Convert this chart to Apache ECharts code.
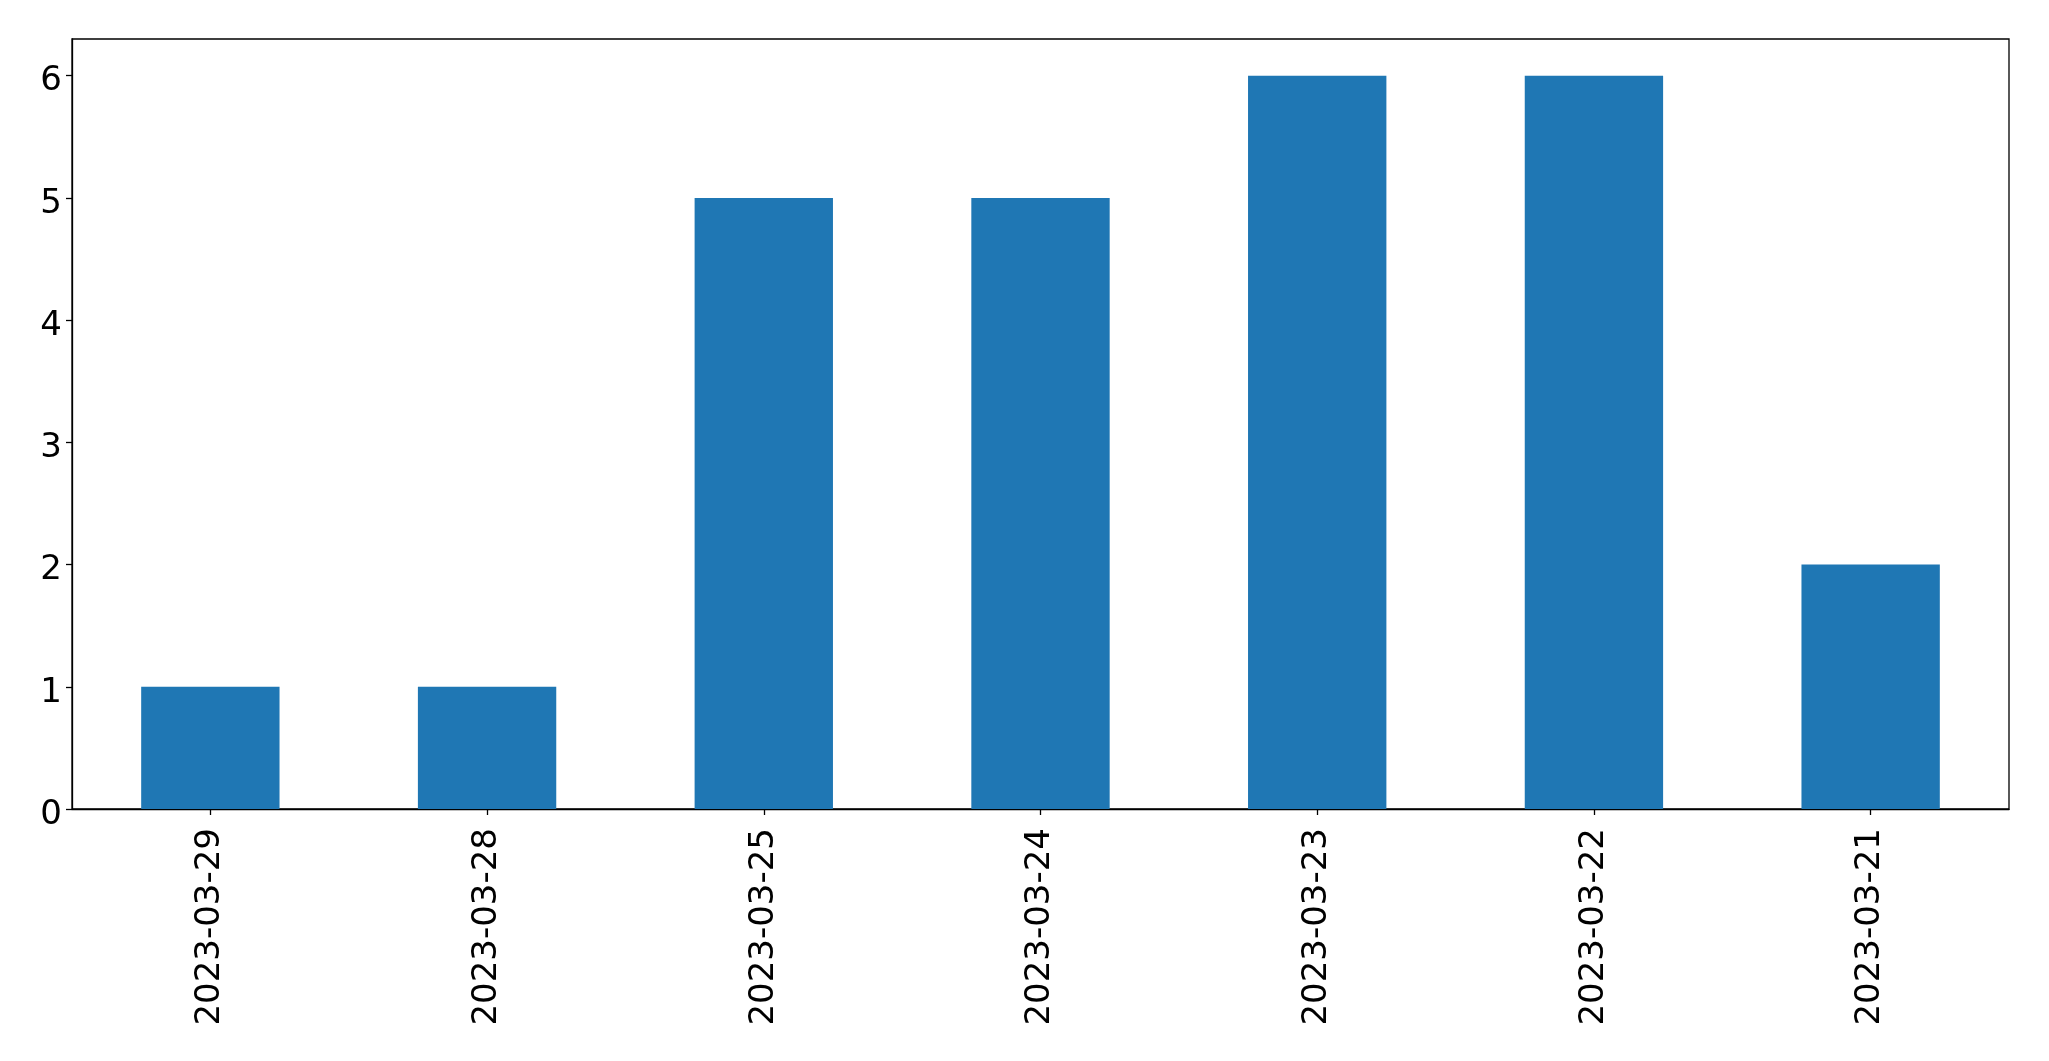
<!DOCTYPE html>
<html>
<head>
<meta charset="utf-8">
<script src="https://cdn.jsdelivr.net/npm/echarts@6/dist/echarts.min.js"></script>
<style>
html,body{margin:0;padding:0;background:#fff;}
#c{width:2049px;height:1061px;}
</style>
</head>
<body>
<div id="c"></div>
<script>
const categories = ['2023-03-29','2023-03-28','2023-03-25','2023-03-24','2023-03-23','2023-03-22','2023-03-21'];
const values = [1, 1, 5, 5, 6, 6, 2];
const yTicks = [0, 1, 2, 3, 4, 5, 6];

const chart = echarts.init(document.getElementById('c'), null, {renderer: 'canvas'});
const font = 'DejaVu Sans';
chart.setOption({
  animation: false,
  backgroundColor: '#fff',
  grid: {
    left: 72, top: 39, right: 40, bottom: 252,
    show: true, borderColor: '#000', borderWidth: 1.3, backgroundColor: 'transparent'
  },
  xAxis: {
    type: 'category',
    data: categories,
    boundaryGap: true,
    axisLine: {show: true, lineStyle: {color: '#000', width: 1.3}},
    axisTick: {show: true, alignWithLabel: true, length: 6, lineStyle: {color: '#000', width: 1.3}},
    axisLabel: {rotate: 90, margin: 19, color: '#000', fontFamily: font, fontSize: 34, interval: 0},
    splitLine: {show: false}
  },
  yAxis: {
    type: 'value',
    min: 0, max: 6.3, interval: 1,
    axisLine: {show: true, lineStyle: {color: '#000', width: 1.3}},
    axisTick: {show: true, length: 6, customValues: yTicks, lineStyle: {color: '#000', width: 1.3}},
    axisLabel: {
      margin: 10, color: '#000', fontFamily: font, fontSize: 34, customValues: yTicks,
      formatter: v => '{a|' + v + '}',
      rich: {a: {padding: [12, 0, 0, 0], fontFamily: font, fontSize: 34, color: '#000'}}
    },
    splitLine: {show: false}
  },
  series: [{
    type: 'bar',
    data: values,
    barWidth: '50%',
    itemStyle: {color: '#1f77b4'}
  }]
});
</script>
</body>
</html>
